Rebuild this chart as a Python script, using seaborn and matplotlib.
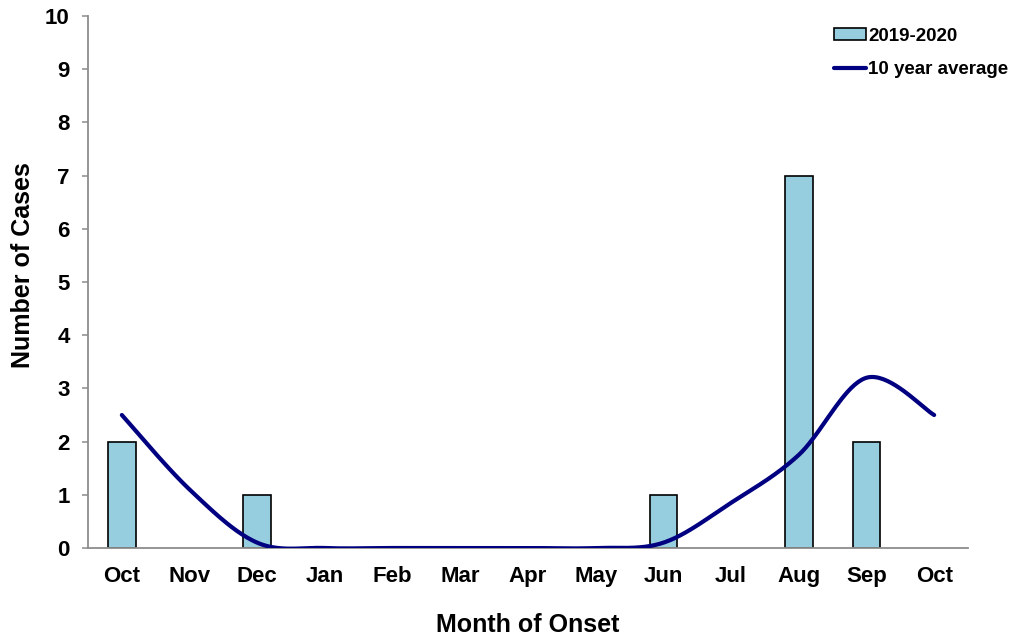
import numpy as np
import pandas as pd
import matplotlib
matplotlib.use("Agg")
import matplotlib.pyplot as plt
import seaborn as sns
from matplotlib.patches import Patch
from matplotlib.lines import Line2D

months = ["Oct", "Nov", "Dec", "Jan", "Feb", "Mar", "Apr", "May", "Jun", "Jul", "Aug", "Sep", "Oct"]
cases_2019_2020 = [2, 0, 1, 0, 0, 0, 0, 0, 1, 0, 7, 2, 0]
ten_year_avg = [2.5, 1.1, 0.1, 0, 0, 0, 0, 0, 0.1, 0.85, 1.75, 3.2, 2.5]

sns.set_theme(style="white")
plt.rcParams['font.family'] = ['Liberation Sans', 'DejaVu Sans']
plt.rcParams['text.color'] = 'black'
plt.rcParams['axes.labelcolor'] = 'black'
plt.rcParams['xtick.color'] = 'black'
plt.rcParams['ytick.color'] = 'black'

fig = plt.figure(figsize=(10.11, 6.39), dpi=100)
ax = fig.add_axes([88/1011, 1-548/639, 880/1011, 532/639])

idx = list(range(len(months)))
df = pd.DataFrame({"pos": idx, "cases": cases_2019_2020})
sns.barplot(data=df, x="pos", y="cases", color="#96CDDF", saturation=1,
            width=0.41, edgecolor="black", linewidth=1.2, ax=ax, zorder=2)
# hide outline of empty (zero) bars
for p in ax.patches:
    if p.get_height() == 0:
        p.set_visible(False)


def smooth_curve(xs, ys, n=40):
    xs = np.asarray(xs, float)
    ys = np.asarray(ys, float)
    out_x, out_y = [], []
    m = len(xs)
    for i in range(m - 1):
        p0 = (xs[max(i - 1, 0)], ys[max(i - 1, 0)])
        p1 = (xs[i], ys[i])
        p2 = (xs[i + 1], ys[i + 1])
        p3 = (xs[min(i + 2, m - 1)], ys[min(i + 2, m - 1)])
        c1 = (p1[0] + (p2[0] - p0[0]) / 6, p1[1] + (p2[1] - p0[1]) / 6)
        c2 = (p2[0] - (p3[0] - p1[0]) / 6, p2[1] - (p3[1] - p1[1]) / 6)
        t = np.linspace(0, 1, n, endpoint=(i == m - 2))
        bx = (1-t)**3*p1[0] + 3*(1-t)**2*t*c1[0] + 3*(1-t)*t**2*c2[0] + t**3*p2[0]
        by = (1-t)**3*p1[1] + 3*(1-t)**2*t*c1[1] + 3*(1-t)*t**2*c2[1] + t**3*p2[1]
        out_x.extend(bx)
        out_y.extend(by)
    return np.array(out_x), np.array(out_y)


sx, sy = smooth_curve(idx, ten_year_avg)
line_df = pd.DataFrame({"x": sx, "y": sy})
sns.lineplot(data=line_df, x="x", y="y", color="#000080", linewidth=3.0,
             ax=ax, sort=False, estimator=None, zorder=3,
             solid_capstyle="round")

ax.set_xlim(-0.5, 12.5)
ax.set_ylim(0, 10)
ax.set_yticks(range(0, 11))
ax.set_xticks(idx)
ax.set_xticklabels(months)

for s in ["top", "right"]:
    ax.spines[s].set_visible(False)
for s in ["left", "bottom"]:
    ax.spines[s].set_color("#8c8c8c")
    ax.spines[s].set_linewidth(1.3)

ax.tick_params(axis="y", direction="out", length=4.3, width=1.1, color="#8c8c8c",
               left=True, labelsize=16, pad=9, labelcolor="black")
ax.tick_params(axis="x", length=0, labelsize=16, pad=13, labelcolor="black")
for lbl in ax.get_xticklabels() + ax.get_yticklabels():
    lbl.set_fontweight("bold")

ax.set_xlabel("Month of Onset", fontsize=18, fontweight="bold", labelpad=19)
ax.set_ylabel("Number of Cases", fontsize=18, fontweight="bold")
ax.yaxis.set_label_coords(-0.06, 0.532)

handles = [Patch(facecolor="#96CDDF", edgecolor="black", linewidth=1.2, label="2019-2020"),
           Line2D([0], [0], color="#000080", linewidth=3.0, label="10 year average")]
leg = ax.legend(handles=handles, loc="upper right", bbox_to_anchor=(1.065, 1.01),
                frameon=False, prop={"weight": "bold", "size": 13.5},
                handlelength=1.75, handleheight=0.55, handletextpad=0.1,
                labelspacing=0.9)

fig.savefig("out.png", dpi=100)
